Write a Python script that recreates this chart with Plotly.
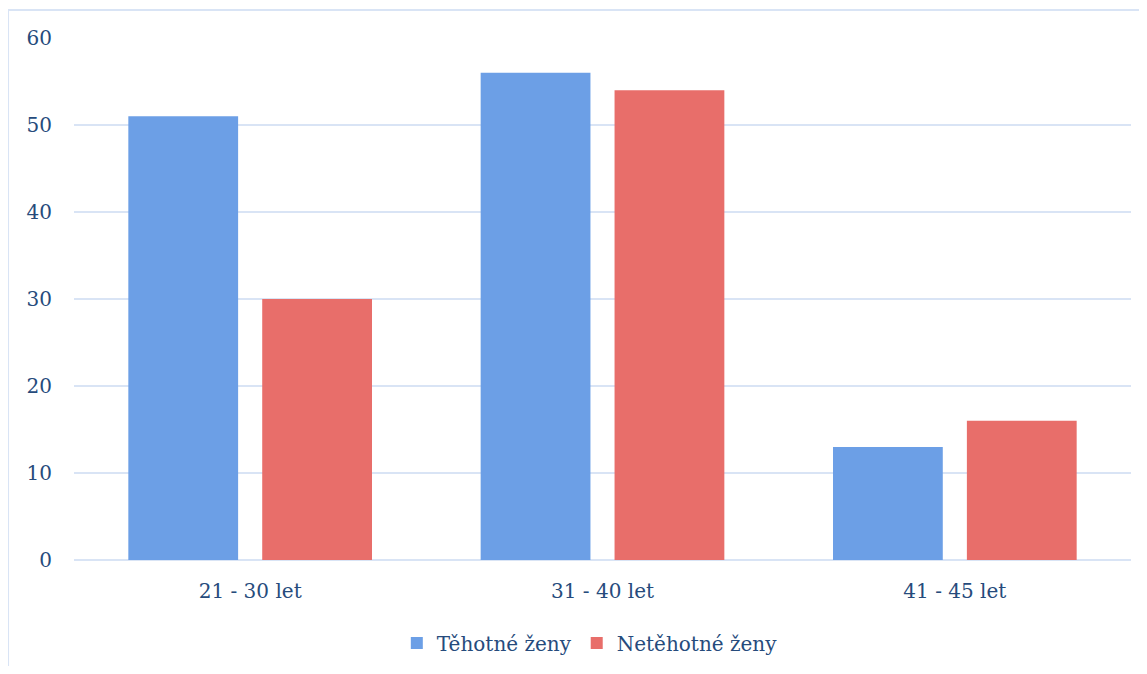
import plotly.graph_objects as go

categories = ["21 - 30 let", "31 - 40 let", "41 - 45 let"]
tehotne = [51, 56, 13]
netehotne = [30, 54, 16]
series_names = ["Těhotné ženy", "Netěhotné ženy"]
y_ticks = [0, 10, 20, 30, 40, 50, 60]

text_color = "#264B7C"
grid_color = "#D9E4F5"
font_family = "DejaVu Serif, Liberation Serif, serif"

fig = go.Figure()
fig.add_trace(go.Bar(
    x=categories, y=tehotne, name=series_names[0],
    marker=dict(color="#6C9FE6", line=dict(width=0)),
))
fig.add_trace(go.Bar(
    x=categories, y=netehotne, name=series_names[1],
    marker=dict(color="#E86E6A", line=dict(width=0)),
))

fig.update_layout(
    width=1131, height=658,
    margin=dict(l=66, r=8, t=30, b=106),
    paper_bgcolor="white", plot_bgcolor="white",
    barmode="group", bargap=0.24, bargroupgap=0.18,
    font=dict(family=font_family, color=text_color, size=20),
    showlegend=True,
    legend=dict(
        orientation="h", x=0.488, y=0.035, yref="container",
        xanchor="center", yanchor="middle",
        font=dict(size=20, color=text_color, family=font_family),
        itemwidth=30, traceorder="normal",
    ),
    xaxis=dict(
        showgrid=False, showline=False, zeroline=False, automargin=False,
        ticks="", ticklabelstandoff=17,
        tickfont=dict(size=20, color=text_color),
    ),
    yaxis=dict(
        range=[0, 60], tickvals=y_ticks, showgrid=True, automargin=False,
        gridcolor=grid_color, gridwidth=2,
        zeroline=True, zerolinecolor=grid_color, zerolinewidth=2,
        showline=False, ticks="", ticklabelstandoff=21,
        tickfont=dict(size=20, color=text_color),
    ),
    shapes=[dict(
        type="rect", xref="paper", yref="paper",
        x0=-0.0624, x1=1.05, y0=-0.4, y1=1.0536,
        line=dict(color=grid_color, width=2), fillcolor="rgba(0,0,0,0)",
        layer="below",
    )],
)

fig.write_html("out.html")
